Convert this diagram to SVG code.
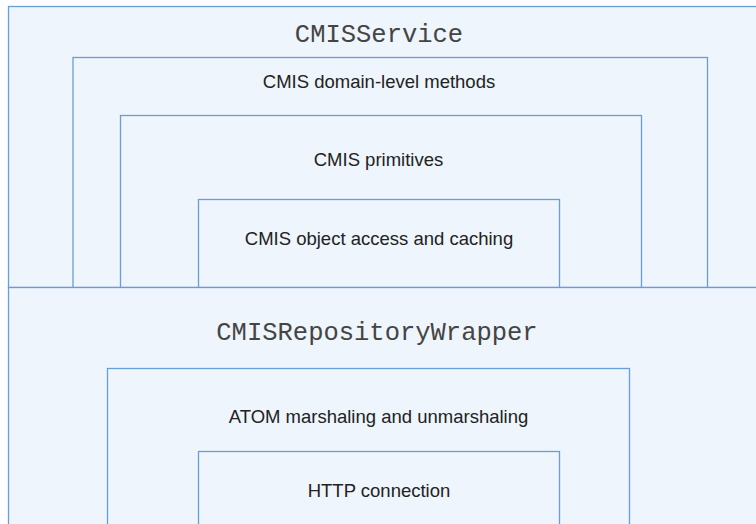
<svg xmlns="http://www.w3.org/2000/svg" width="756" height="524" viewBox="0 0 756 524">
  <style>
    .box { fill: #EEF5FC; stroke: #679ED8; stroke-width: 1.3; }
    .mono { font-family: "Liberation Mono", "DejaVu Sans Mono", monospace; font-size: 25.5px; fill: #444444; text-anchor: middle; }
    .sans { font-family: "Liberation Sans", Arial, sans-serif; font-size: 18.5px; fill: #222222; text-anchor: middle; }
  </style>
  <rect x="0" y="0" width="756" height="524" fill="#FFFFFF"/>
  <g id="cmis-service">
    <rect class="box" x="8.5" y="6.5" width="760" height="281"/>
    <text class="mono" x="379" y="42">CMISService</text>
  </g>
  <g id="domain-level-methods">
    <rect class="box" x="73" y="57.5" width="634.5" height="230"/>
    <text class="sans" x="379" y="88">CMIS domain-level methods</text>
  </g>
  <g id="primitives">
    <rect class="box" x="120.5" y="115.5" width="521" height="172"/>
    <text class="sans" x="378.5" y="166">CMIS primitives</text>
  </g>
  <g id="object-access">
    <rect class="box" x="198.5" y="199.5" width="361" height="88"/>
    <text class="sans" x="379" y="245">CMIS object access and caching</text>
  </g>
  <g id="repository-wrapper">
    <rect class="box" x="8.5" y="287.5" width="760" height="250"/>
    <text class="mono" x="377" y="340">CMISRepositoryWrapper</text>
  </g>
  <g id="atom-marshaling">
    <rect class="box" x="107.5" y="368.5" width="522" height="170"/>
    <text class="sans" x="378.5" y="423">ATOM marshaling and unmarshaling</text>
  </g>
  <g id="http-connection">
    <rect class="box" x="198.5" y="451.5" width="361" height="90"/>
    <text class="sans" x="379" y="497">HTTP connection</text>
  </g>
  <g id="connectors"></g>
</svg>
